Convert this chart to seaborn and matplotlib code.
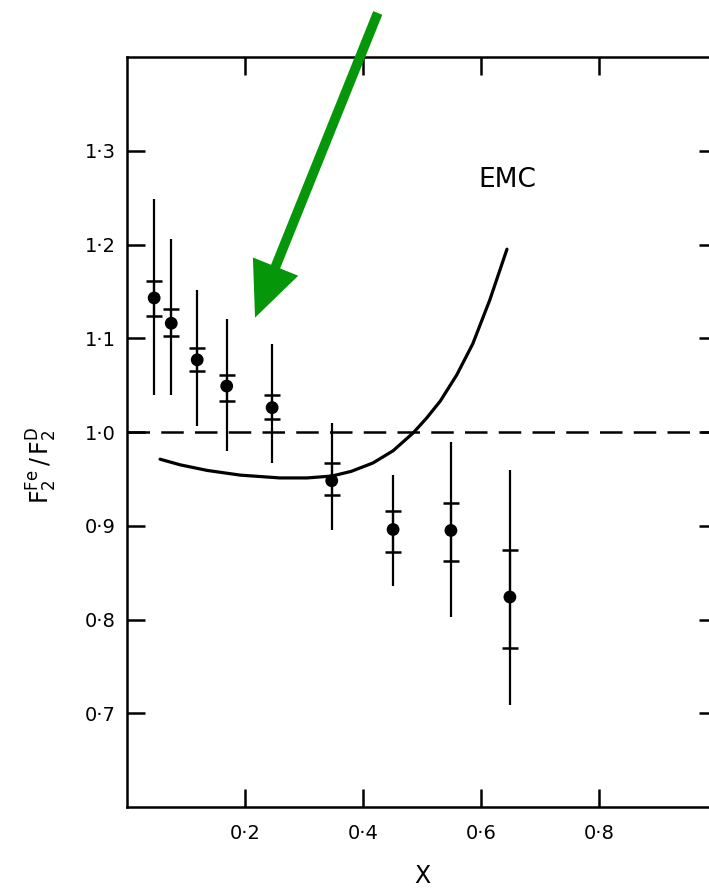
import numpy as np
import pandas as pd
import seaborn as sns
import matplotlib.pyplot as plt

# data
x_vals = [0.046, 0.075, 0.119, 0.169, 0.246, 0.347, 0.451, 0.549, 0.649]
ratio = [1.143, 1.116, 1.077, 1.049, 1.026, 0.948, 0.896, 0.895, 0.824]
stat_hi = [1.161, 1.131, 1.090, 1.061, 1.040, 0.967, 0.916, 0.924, 0.874]
stat_lo = [1.124, 1.102, 1.065, 1.033, 1.014, 0.933, 0.872, 0.862, 0.770]
tot_hi = [1.249, 1.206, 1.152, 1.121, 1.094, 1.010, 0.954, 0.989, 0.960]
tot_lo = [1.040, 1.039, 1.006, 0.980, 0.967, 0.895, 0.836, 0.803, 0.709]

emc_x = [0.056, 0.090, 0.136, 0.192, 0.259, 0.305, 0.347, 0.380, 0.417, 0.451,
         0.485, 0.508, 0.531, 0.559, 0.586, 0.615, 0.644]
emc_y = [0.971, 0.965, 0.959, 0.954, 0.951, 0.951, 0.953, 0.958, 0.967, 0.980,
         0.999, 1.015, 1.033, 1.061, 1.094, 1.141, 1.195]

y_ticks = [0.7, 0.8, 0.9, 1.0, 1.1, 1.2, 1.3]
x_ticks = [0.2, 0.4, 0.6, 0.8]

sns.set_style("ticks")
plt.rcParams['font.family'] = ['DejaVu Sans']
plt.rcParams['mathtext.default'] = 'regular'
# the scan is pure black ink
for key in ['text.color', 'axes.labelcolor', 'xtick.color', 'ytick.color', 'axes.edgecolor']:
    plt.rcParams[key] = 'black'

df = pd.DataFrame({'x': x_vals, 'ratio': ratio})
r = np.array(ratio)

fig = plt.figure(figsize=(7.09, 8.89), dpi=100)
ax = fig.add_axes([127 / 709, 82 / 889, 590 / 709, 750 / 889])

# total error: plain vertical line
ax.errorbar(x_vals, ratio, yerr=[r - np.array(tot_lo), np.array(tot_hi) - r],
            fmt='none', ecolor='black', elinewidth=1.6, capsize=0)
# statistical error: short horizontal caps
ax.errorbar(x_vals, ratio, yerr=[r - np.array(stat_lo), np.array(stat_hi) - r],
            fmt='none', ecolor='black', elinewidth=1.6, capsize=5.5, capthick=1.8)
sns.scatterplot(data=df, x='x', y='ratio', color='black', s=85,
                edgecolor='none', ax=ax, zorder=3)

sns.lineplot(x=emc_x, y=emc_y, color='black', linewidth=2.3, ax=ax)
ax.axhline(1.0, color='black', linewidth=1.8, linestyle=(0, (9, 4.5)))

ax.text(0.644, 1.269, 'EMC', fontsize=19, ha='center', va='center')

# green arrow pointing at the low-x points
ax.annotate('', xy=(0.217, 1.122), xytext=(0.425, 1.447),
            xycoords='data', textcoords='data', annotation_clip=False,
            arrowprops=dict(arrowstyle='simple,head_length=1.8,head_width=1.6,tail_width=0.32',
                            facecolor='#06960a', edgecolor='none', lw=0,
                            mutation_scale=22, shrinkA=0, shrinkB=0))

ax.set_xlim(0, 1.0)
ax.set_ylim(0.6, 1.4)
ax.set_xticks(x_ticks)
ax.set_yticks(y_ticks)
ax.set_xticklabels([f"{v:.1f}".replace('.', '·') for v in x_ticks])
ax.set_yticklabels([f"{v:.1f}".replace('.', '·') for v in y_ticks])
ax.tick_params(direction='in', length=13, width=1.8, labelsize=14,
               top=True, right=True, pad=8)
ax.tick_params(axis='x', pad=12)
for sp in ax.spines.values():
    sp.set_linewidth(1.8)

ax.set_xlabel('X', fontsize=17)
ax.set_ylabel(r'$F_2^{Fe}\,/\,F_2^{D}$', fontsize=17)
ax.yaxis.set_label_coords(-0.115, 0.455)
ax.xaxis.set_label_coords(0.5, -0.092)
ax.xaxis.label.set_va('center')

fig.savefig('out.png', dpi=100)
